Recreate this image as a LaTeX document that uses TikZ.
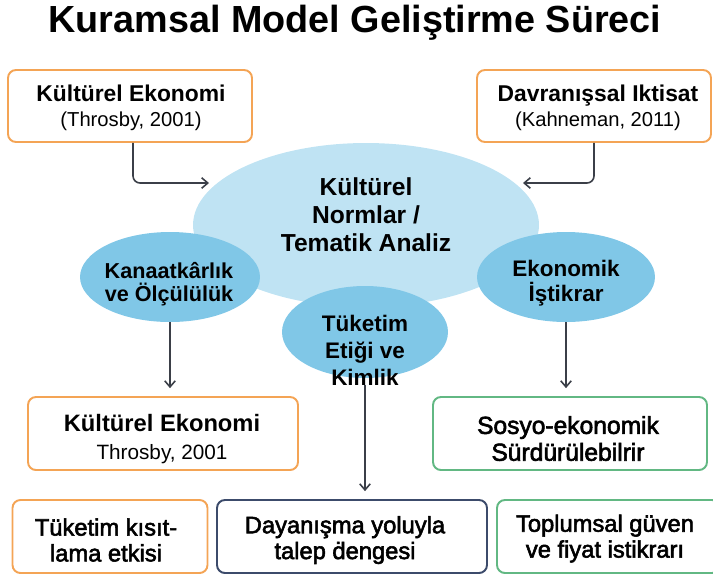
\documentclass[tikz,border=0pt]{standalone}
\usepackage{fontspec}
\setmainfont{Liberation Sans}
\newfontfamily\medfont[FakeBold=2.4]{Liberation Sans}
\usetikzlibrary{shapes.geometric,arrows.meta}

\definecolor{boxorange}{HTML}{F4A455}
\definecolor{boxgreen}{HTML}{62B883}
\definecolor{boxnavy}{HTML}{3C4B6B}
\definecolor{normblue}{HTML}{BFE3F3}
\definecolor{themeblue}{HTML}{80C7E7}
\definecolor{arrowgray}{HTML}{3B3F48}

\tikzset{
  card/.style={draw, line width=1.1pt, rounded corners=4.5pt, fill=white, inner sep=0pt},
  orangecard/.style={card, draw=boxorange},
  greencard/.style={card, draw=boxgreen},
  navycard/.style={card, draw=boxnavy},
  cardtxt/.style={align=center, inner sep=0pt},
  bigcloud/.style={ellipse, fill=normblue, inner sep=0pt},
  themecloud/.style={ellipse, fill=themeblue, inner sep=0pt},
  cloudtxt/.style={align=center, inner sep=0pt},
  flow/.style={draw=arrowgray, line width=0.9pt, -{Straight Barb[length=3.5pt,width=6pt]}},
}

\begin{document}
\begin{tikzpicture}[x=0.02cm, y=-0.02cm]
      \useasboundingbox (0,0) rectangle (713,576);

      \node[font=\bfseries\fontsize{21.5}{24}\selectfont] (title) at (355,23) {Kuramsal Model Geliştirme Süreci};

      \node[bigcloud, minimum width=6.92cm, minimum height=3.28cm] (normEl) at (366,225) {};
      \node[themecloud, minimum width=3.6cm, minimum height=1.8cm] (kanaatEl) at (170,277) {};
      \node[themecloud, minimum width=3.56cm, minimum height=1.8cm] (ekonomikEl) at (566,277) {};
      \node[themecloud, minimum width=3.32cm, minimum height=1.84cm] (tuketimEl) at (365,332) {};

      \node[cloudtxt, font=\bfseries\fontsize{14}{16}\selectfont] (normTxt) at (366,215) {Kültürel\\Normlar /\\Tematik Analiz};
      \node[cloudtxt, font=\bfseries\fontsize{12.3}{13.2}\selectfont] (kanaatTxt) at (169,284) {Kanaatkârlık\\ve Ölçülülük};
      \node[cloudtxt, font=\bfseries\fontsize{12.8}{14.2}\selectfont] (ekonomikTxt) at (566,283) {Ekonomik\\İştikrar};
      \node[cloudtxt, font=\bfseries\fontsize{12.8}{15.3}\selectfont] (tuketimTxt) at (365,350) {Tüketim\\Etiği ve\\Kimlik};

      \node[orangecard, minimum width=4.88cm, minimum height=1.44cm] (kulturTop) at (130,106) {};
      \node[cardtxt, font=\fontsize{13}{14.2}\selectfont] (kulturTopTxt) at (131,107.5)
        {{\bfseries Kültürel Ekonomi}\\{\fontsize{11.5}{14.2}\selectfont (Throsby, 2001)}};
      \node[orangecard, minimum width=4.68cm, minimum height=1.44cm] (davranis) at (594,106) {};
      \node[cardtxt, font=\fontsize{13}{14.2}\selectfont] (davranisTxt) at (598,107.5)
        {{\bfseries Davranışsal Iktisat}\\{\fontsize{11.5}{14.2}\selectfont (Kahneman, 2011)}};

      \node[orangecard, minimum width=5.4cm, minimum height=1.46cm] (kulturMid) at (163,433.5) {};
      \node[cardtxt, font=\fontsize{13.5}{15.9}\selectfont] (kulturMidTxt) at (162,439)
        {{\bfseries Kültürel Ekonomi}\\{\fontsize{11.8}{15.9}\selectfont Throsby, 2001}};
      \node[greencard, minimum width=5.48cm, minimum height=1.46cm] (sosyo) at (570,433.5) {};
      \node[cardtxt, font=\medfont\fontsize{14}{15.3}\selectfont] (sosyoTxt) at (568,438.5)
        {Sosyo-ekonomik\\Sürdürülebilrir};

      \node[orangecard, minimum width=3.9cm, minimum height=1.46cm] (kisitlama) at (110,536.5) {};
      \node[cardtxt, font=\medfont\fontsize{13.5}{14.7}\selectfont] (kisitlamaTxt) at (106,540)
        {Tüketim kısıt-\\lama etkisi};
      \node[navycard, minimum width=5.4cm, minimum height=1.46cm] (dayanisma) at (352,536.5) {};
      \node[cardtxt, font=\medfont\fontsize{13.5}{14.7}\selectfont] (dayanismaTxt) at (345,540)
        {Dayanışma yoluyla\\talep ḋengesi};
      \node[greencard, minimum width=4.46cm, minimum height=1.46cm] (guven) at (608.5,536.5) {};
      \node[cardtxt, font=\medfont\fontsize{13.5}{14.7}\selectfont] (guvenTxt) at (605,538.5)
        {Toplumsal güven\\ve fiyat istikrarı};

      \coordinate (normL) at (209,183);
      \coordinate (normR) at (523,183);

      \draw[flow, rounded corners=4pt] (kulturTop.south) ++(3,0) |- (normL);
      \draw[flow, rounded corners=4pt] (davranis.south) |- (normR);
      \draw[flow, shorten >=4.5pt] (kanaatEl.south) -- (kanaatEl.south |- kulturMid.north);
      \draw[flow, shorten >=4.5pt] (ekonomikEl.south) -- (ekonomikEl.south |- sosyo.north);
      \draw[flow, shorten >=4.5pt] (tuketimTxt.south) -- (tuketimTxt.south |- dayanisma.north);

    \end{tikzpicture}
\end{document}
